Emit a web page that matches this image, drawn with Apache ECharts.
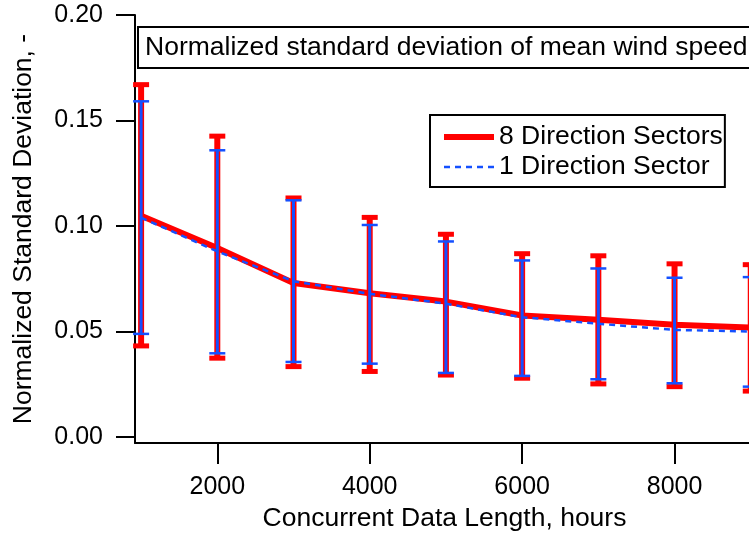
<!DOCTYPE html>
<html>
<head>
<meta charset="utf-8">
<script src="https://cdn.jsdelivr.net/npm/echarts@6/dist/echarts.min.js"></script>
<style>html,body{margin:0;padding:0;background:#fff}#c{width:749px;height:540px}</style>
</head>
<body>
<div id="c"></div>
<script>
const hours = [1000, 2000, 3000, 4000, 5000, 6000, 7000, 8000, 9000];
const mean8 = [0.1049, 0.0896, 0.0730, 0.0682, 0.0642, 0.0576, 0.0556, 0.0532, 0.0519];
const hi8   = [0.1670, 0.1426, 0.1133, 0.1041, 0.0961, 0.0869, 0.0859, 0.0821, 0.0817];
const lo8   = [0.0432, 0.0374, 0.0334, 0.0311, 0.0294, 0.0279, 0.0252, 0.0239, 0.0218];
const mean1 = [0.1040, 0.0880, 0.0738, 0.0679, 0.0632, 0.0568, 0.0537, 0.0508, 0.0500];
const hi1   = [0.1591, 0.1359, 0.1122, 0.1005, 0.0927, 0.0837, 0.0799, 0.0755, 0.0758];
const lo1   = [0.0489, 0.0397, 0.0356, 0.0348, 0.0304, 0.0290, 0.0274, 0.0255, 0.0239];
const xTicks = [2000, 4000, 6000, 8000];
const yTicks = [0, 0.05, 0.10, 0.15, 0.20];

const FONT = 'Liberation Sans, Arial, sans-serif';
const RED = '#ff0000';
const BLUE = '#1450ff';

function errBar(color, lw, capW, capH) {
  return function (params, api) {
    const x = api.value(0), lo = api.value(1), hi = api.value(2);
    const pH = api.coord([x, hi]);
    const pL = api.coord([x, lo]);
    return {
      type: 'group',
      children: [
        {type: 'line', shape: {x1: pH[0], y1: pH[1], x2: pL[0], y2: pL[1]}, style: {stroke: color, lineWidth: lw}},
        {type: 'line', shape: {x1: pH[0] - capW / 2, y1: pH[1], x2: pH[0] + capW / 2, y2: pH[1]}, style: {stroke: color, lineWidth: capH}},
        {type: 'line', shape: {x1: pL[0] - capW / 2, y1: pL[1], x2: pL[0] + capW / 2, y2: pL[1]}, style: {stroke: color, lineWidth: capH}}
      ]
    };
  };
}

const chart = echarts.init(document.getElementById('c'), null, {renderer: 'canvas'});
chart.setOption({
  animation: false,
  backgroundColor: '#fff',
  textStyle: {fontFamily: FONT},
  grid: {left: 135, top: 15, width: 631, height: 428, containLabel: false, outerBoundsMode: 'none'},
  title: {
    text: 'Normalized standard deviation of mean wind speed',
    left: 138, top: 27,
    backgroundColor: '#fff', borderColor: '#000', borderWidth: 2,
    padding: [6, 40, 5, 7],
    textStyle: {fontFamily: FONT, fontSize: 26.5, fontWeight: 'normal', color: '#000', lineHeight: 30}
  },
  legend: {
    data: [
      {name: '8 Direction Sectors', itemStyle: {opacity: 0}, lineStyle: {width: 6, color: RED}},
      {name: '1 Direction Sector', itemStyle: {opacity: 0}, lineStyle: {width: 2.5, color: BLUE, type: [6, 5]}}
    ],
    orient: 'vertical', left: 430, top: 115,
    itemWidth: 50, itemHeight: 14, itemGap: 0,
    padding: [7, 2, 5, 11],
    backgroundColor: '#fff', borderColor: '#000', borderWidth: 2,
    selectedMode: false,
    textStyle: {fontFamily: FONT, fontSize: 26.5, color: '#000', lineHeight: 30}
  },
  xAxis: {
    type: 'value', min: 920, max: 9200,
    name: 'Concurrent Data Length, hours', nameLocation: 'middle', nameGap: 62,
    nameTextStyle: {fontFamily: FONT, fontSize: 26.5, color: '#000', padding: [0, 12, 0, 0]},
    axisLine: {show: true, onZero: false, lineStyle: {color: '#000', width: 2}},
    axisTick: {show: true, length: 21, lineStyle: {color: '#000', width: 2}, customValues: xTicks},
    axisLabel: {customValues: xTicks, margin: 32, fontSize: 25, color: '#000', fontFamily: FONT,
      formatter: v => String(Math.round(v))},
    splitLine: {show: false}
  },
  yAxis: {
    type: 'value', min: -0.0028, max: 0.2,
    name: 'Normalized Standard Deviation, -', nameLocation: 'middle', nameGap: 98,
    nameTextStyle: {fontFamily: FONT, fontSize: 26.5, color: '#000'},
    axisLine: {show: true, onZero: false, lineStyle: {color: '#000', width: 2}},
    axisTick: {show: true, length: 19, lineStyle: {color: '#000', width: 2}, customValues: yTicks},
    axisLabel: {customValues: yTicks, margin: 32, fontSize: 25, color: '#000', fontFamily: FONT,
      formatter: v => Number(v).toFixed(2)},
    splitLine: {show: false}
  },
  series: [
    {
      name: '8 Direction Sectors', type: 'line', z: 2,
      data: hours.map((h, i) => [h, mean8[i]]),
      symbol: 'none', lineStyle: {color: RED, width: 6}, itemStyle: {color: RED}
    },
    {
      name: 'err8', type: 'custom', z: 3,
      data: hours.map((h, i) => [h, lo8[i], hi8[i]]),
      renderItem: errBar(RED, 6, 16, 5), encode: {x: 0, y: [1, 2]}
    },
    {
      name: '1 Direction Sector', type: 'line', z: 4,
      data: hours.map((h, i) => [h, mean1[i]]),
      symbol: 'none', lineStyle: {color: BLUE, width: 2.5, type: [6, 5]}, itemStyle: {color: BLUE}
    },
    {
      name: 'err1', type: 'custom', z: 5,
      data: hours.map((h, i) => [h, lo1[i], hi1[i]]),
      renderItem: errBar(BLUE, 3, 16, 2.5), encode: {x: 0, y: [1, 2]}
    }
  ]
});
</script>
</body>
</html>
